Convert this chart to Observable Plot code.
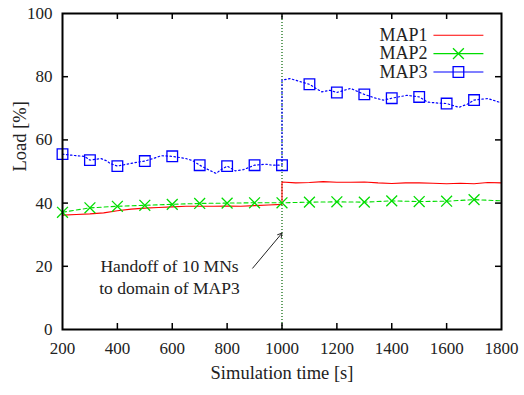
<!DOCTYPE html>
<html>
<head>
<meta charset="utf-8">
<script src="https://cdn.jsdelivr.net/npm/d3@7"></script>
<script src="https://cdn.jsdelivr.net/npm/@observablehq/plot@0.6"></script>
<style>
  html, body { margin: 0; padding: 0; background: #fff; }
  #chart svg { display: block; font-family: "Liberation Serif", "Times New Roman", serif !important; }
  #chart svg text { font-family: "Liberation Serif", "Times New Roman", serif !important; }
</style>
</head>
<body>
<div id="chart"></div>
<script>
// ---- data ----
const map1T = [200, 250, 300, 350, 400, 450, 500, 550, 600, 650, 700, 750, 800, 850, 900, 950, 1000, 1000, 1050, 1100, 1150, 1200, 1250, 1300, 1350, 1400, 1450, 1500, 1550, 1600, 1650, 1700, 1750, 1800];
const map1V = [36.2, 36.4, 36.6, 36.9, 37.6, 38.1, 38.4, 38.6, 38.8, 39.0, 39.0, 39.0, 39.1, 39.0, 39.2, 39.4, 39.6, 46.7, 46.4, 46.5, 46.8, 46.6, 46.6, 46.7, 46.4, 46.2, 46.4, 46.4, 46.3, 46.1, 46.3, 46.1, 46.5, 46.4];

const map2T = [200, 300, 400, 500, 600, 700, 800, 900, 1000, 1100, 1200, 1300, 1400, 1500, 1600, 1700, 1800];
const map2V = [37.1, 38.5, 39.0, 39.3, 39.6, 39.9, 40.0, 40.1, 40.1, 40.3, 40.4, 40.3, 40.7, 40.5, 40.6, 41.1, 40.7];

const map3T = [200, 250, 280, 300, 340, 360, 375, 400, 435, 470, 500, 530, 560, 600, 650, 675, 700, 735, 760, 775, 800, 830, 860, 900, 940, 965, 1000, 1000, 1030, 1060, 1100, 1120, 1145, 1175, 1200, 1250, 1300, 1345, 1370, 1400, 1455, 1500, 1530, 1560, 1600, 1645, 1675, 1700, 1750, 1790, 1800];
const map3V = [55.5, 55.0, 54.8, 53.6, 54.1, 53.4, 52.5, 51.7, 52.3, 52.9, 53.3, 54.1, 55.0, 54.8, 54.1, 53.4, 52.0, 50.4, 49.4, 50.4, 51.7, 50.2, 50.6, 52.0, 52.3, 52.0, 52.0, 78.9, 79.4, 78.6, 77.6, 76.5, 75.2, 75.7, 75.0, 76.3, 74.4, 73.1, 72.6, 73.2, 74.1, 73.6, 72.0, 71.7, 71.5, 70.3, 71.3, 72.6, 73.1, 72.0, 72.0];

const markerT = [200, 300, 400, 500, 600, 700, 800, 900, 1000, 1100, 1200, 1300, 1400, 1500, 1600, 1700];
const map2Markers = [37.1, 38.5, 39.0, 39.3, 39.6, 39.9, 40.0, 40.1, 40.1, 40.3, 40.4, 40.3, 40.7, 40.5, 40.6, 41.1];
const map3Markers = [55.5, 53.6, 51.7, 53.3, 54.8, 52.0, 51.7, 52.0, 52.0, 77.6, 75.0, 74.4, 73.2, 73.6, 71.5, 72.6];

const xTicks = [200, 400, 600, 800, 1000, 1200, 1400, 1600, 1800];
const yTicks = [0, 20, 40, 60, 80, 100];
const xLabel = "Simulation time [s]";
const yLabel = "Load [%]";

const handoffTime = [1000];
const noteLines = "Handoff of 10 MNs\nto domain of MAP3";
const noteX = [590];
const noteY = [17];
const arrowFrom = [893, 19.4];
const arrowTo = [1000, 30.5];

const legendNames = ["MAP1", "MAP2", "MAP3"];
const legendY = [93.1, 87.3, 81.5];
const legendTextX = 1530;
const legendLineX = [1552, 1734];
const legendMarkX = 1643;

// ---- styles ----
const colors = {MAP1: "#ff0000", MAP2: "#00dd00", MAP3: "#0000ff"};
const dashes = {MAP1: null, MAP2: "4,3", MAP3: "1.5,2.5"};
const font = "'Liberation Serif', 'Times New Roman', serif";
const ink = "#222";

const rows = (ts, vs, name) => ts.map((t, i) => ({t, v: vs[i], name}));
const d1 = rows(map1T, map1V, "MAP1");
const d2 = rows(map2T, map2V, "MAP2");
const d3 = rows(map3T, map3V, "MAP3");
const m2 = rows(markerT, map2Markers, "MAP2");
const m3 = rows(markerT, map3Markers, "MAP3");
const legend = legendNames.map((name, i) => ({name, y: legendY[i]}));

const innerTicksX = xTicks.slice(1, -1);
const innerTicksY = yTicks.slice(1, -1);

const chart = Plot.plot({
  width: 524,
  height: 395,
  marginLeft: 62,
  marginRight: 23,
  marginTop: 13,
  marginBottom: 66,
  style: {fontFamily: font, fontSize: "17px", color: ink, background: "#fff"},
  x: {domain: [200, 1800]},
  y: {domain: [0, 100]},
  marks: [
    Plot.ruleX(handoffTime, {x: d => d, stroke: "#006400", strokeDasharray: "1,2", strokeWidth: 1.2}),
    Plot.line(d1, {x: "t", y: "v", stroke: colors.MAP1, strokeWidth: 1.1}),
    Plot.line(d2, {x: "t", y: "v", stroke: colors.MAP2, strokeWidth: 1.1, strokeDasharray: dashes.MAP2}),
    Plot.line(d3, {x: "t", y: "v", stroke: colors.MAP3, strokeWidth: 1.2, strokeDasharray: dashes.MAP3}),
    Plot.dot(m2, {x: "t", y: "v", symbol: "times", r: 5, stroke: colors.MAP2, strokeWidth: 1.3}),
    Plot.dot(m3, {x: "t", y: "v", symbol: "square", r: 6, stroke: colors.MAP3, strokeWidth: 1.3, fill: "none"}),
    // legend
    Plot.text(legend, {x: legendTextX, y: "y", text: "name", textAnchor: "end", fontSize: 18, fontFamily: font, fill: ink}),
    Plot.link(legend, {x1: legendLineX[0], x2: legendLineX[1], y1: "y", y2: "y", stroke: d => colors[d.name], strokeDasharray: d => dashes[d.name], strokeWidth: 1.1}),
    Plot.dot(legend.filter(d => d.name === "MAP2"), {x: legendMarkX, y: "y", symbol: "times", r: 5, stroke: colors.MAP2, strokeWidth: 1.3}),
    Plot.dot(legend.filter(d => d.name === "MAP3"), {x: legendMarkX, y: "y", symbol: "square", r: 6, stroke: colors.MAP3, strokeWidth: 1.3, fill: "none"}),
    // annotation
    Plot.text([noteLines], {x: noteX[0], y: noteY[0], text: d => d, textAnchor: "middle", fontSize: 17.5, fontFamily: font, fill: ink, lineHeight: 1.3}),
    Plot.arrow([0], {x1: arrowFrom[0], y1: arrowFrom[1], x2: arrowTo[0], y2: arrowTo[1], stroke: ink, strokeWidth: 1, headLength: 7}),
    // inward ticks
    Plot.tickX(innerTicksX, {x: d => d, insetTop: 310, stroke: "#000", strokeWidth: 1.5}),
    Plot.tickX(innerTicksX, {x: d => d, insetBottom: 310, stroke: "#000", strokeWidth: 1.5}),
    Plot.tickY(innerTicksY, {y: d => d, insetRight: 433, stroke: "#000", strokeWidth: 1.5}),
    Plot.tickY(innerTicksY, {y: d => d, insetLeft: 433, stroke: "#000", strokeWidth: 1.5}),
    Plot.frame({stroke: "#000", strokeWidth: 2}),
    Plot.axisX(xTicks, {tickSize: 0, tickPadding: 12, tickFormat: d => String(d), fontSize: 17, fontFamily: font, fill: ink, label: null}),
    Plot.axisY(yTicks, {tickSize: 0, tickPadding: 10, tickFormat: d => String(d), fontSize: 17, fontFamily: font, fill: ink, label: null}),
    Plot.text([xLabel], {text: d => d, frameAnchor: "bottom", dy: 49, fontSize: 18.5, fontFamily: font, fill: ink}),
    Plot.text([yLabel], {text: d => d, frameAnchor: "left", dx: -42, rotate: -90, fontSize: 18.5, fontFamily: font, fill: ink})
  ]
});
document.getElementById("chart").appendChild(chart);
</script>
</body>
</html>
